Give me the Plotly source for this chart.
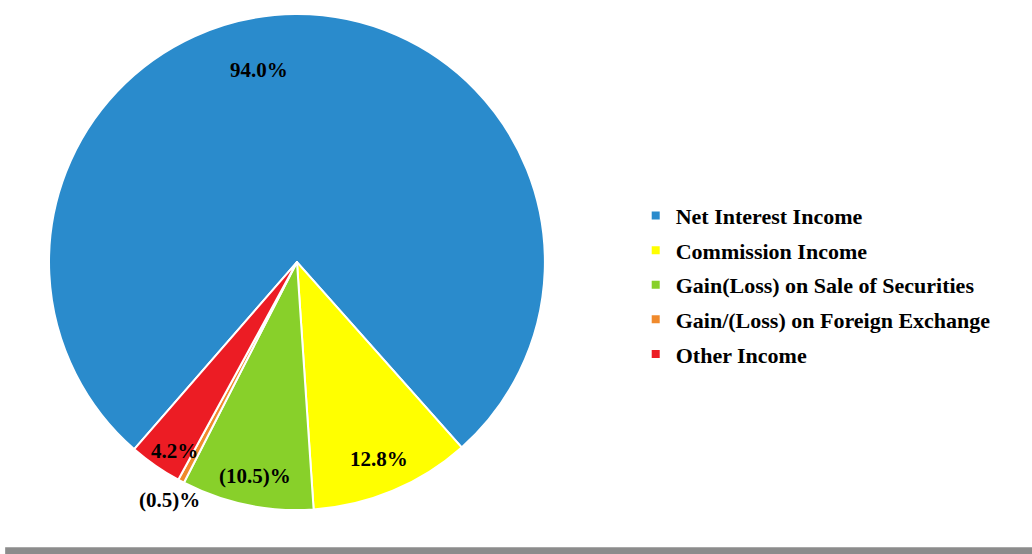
import math
import plotly.graph_objects as go

# income composition (slice size = absolute share, label shows signed share)
categories = ['Net Interest Income', 'Commission Income',
              'Gain(Loss) on Sale of Securities',
              'Gain/(Loss) on Foreign Exchange', 'Other Income']
shares = [94.0, 12.8, -10.5, -0.5, 4.2]
labels_txt = ['94.0%', '12.8%', '(10.5)%', '(0.5)%', '4.2%']

colors = ['#2a8bcc', '#ffff00', '#88d02a', '#f08a2c', '#ec1c24']

W, H = 1032, 554
ROT = 221
dom_x = [0.0475, 0.528]
dom_y = [0.079, 0.975]

# label placement: offset from slice mid-angle (deg) and radius fraction
lab_shift = [-11, 0.2, -0.5, 0.3, -1.9]
lab_rfrac = [0.79, 0.86, 0.88, 1.09, 0.91]

sizes = [abs(v) for v in shares]
total = sum(sizes)

fig = go.Figure(go.Pie(
    labels=categories,
    values=sizes,
    text=labels_txt,
    textinfo='none',
    hoverinfo='label+text',
    sort=False,
    direction='clockwise',
    rotation=ROT,
    showlegend=False,
    marker=dict(colors=colors, line=dict(color='white', width=2)),
    domain=dict(x=dom_x, y=dom_y),
))

# legend entries (small square swatches, one group each for the spacing)
for name, col in zip(categories, colors):
    fig.add_trace(go.Scatter(x=[None], y=[None], mode='markers', name=name,
                             legendgroup=name,
                             marker=dict(symbol='square', size=8, color=col)))

# put the percentage labels at the slice angles
cx = (dom_x[0] + dom_x[1]) / 2 * W
cy = (dom_y[0] + dom_y[1]) / 2 * H
R = min((dom_x[1] - dom_x[0]) * W, (dom_y[1] - dom_y[0]) * H) / 2
annotations = []
start = ROT
for size, txt, sh, rf in zip(sizes, labels_txt, lab_shift, lab_rfrac):
    span = size / total * 360
    ang = math.radians(start + span / 2 + sh)
    start += span
    x = cx + rf * R * math.sin(ang)
    y = cy + rf * R * math.cos(ang)
    annotations.append(dict(x=x / W, y=y / H, xref='paper', yref='paper',
                            xanchor='center', yanchor='middle',
                            text='<b>%s</b>' % txt, showarrow=False,
                            font=dict(family='Liberation Serif', size=21,
                                      color='black')))

fig.update_layout(
    width=W, height=H,
    margin=dict(l=0, r=0, t=0, b=0),
    paper_bgcolor='white',
    plot_bgcolor='rgba(0,0,0,0)',
    font=dict(family='Liberation Serif', color='black'),
    annotations=annotations,
    xaxis=dict(visible=False),
    yaxis=dict(visible=False),
    legend=dict(x=0.616, y=0.486, xanchor='left', yanchor='middle',
                traceorder='grouped', tracegroupgap=3,
                font=dict(family='Liberation Serif', size=22, color='black',
                          weight='bold')),
    # grey shadow strip at the bottom of the frame
    shapes=[dict(type='rect', xref='paper', yref='paper',
                 x0=0.005, x1=1, y0=0, y1=0.012,
                 fillcolor='#8c8c8c', line=dict(width=0))],
)

fig.write_html('out.html', config={'displayModeBar': False},
               post_script="document.body.style.margin='0';")
